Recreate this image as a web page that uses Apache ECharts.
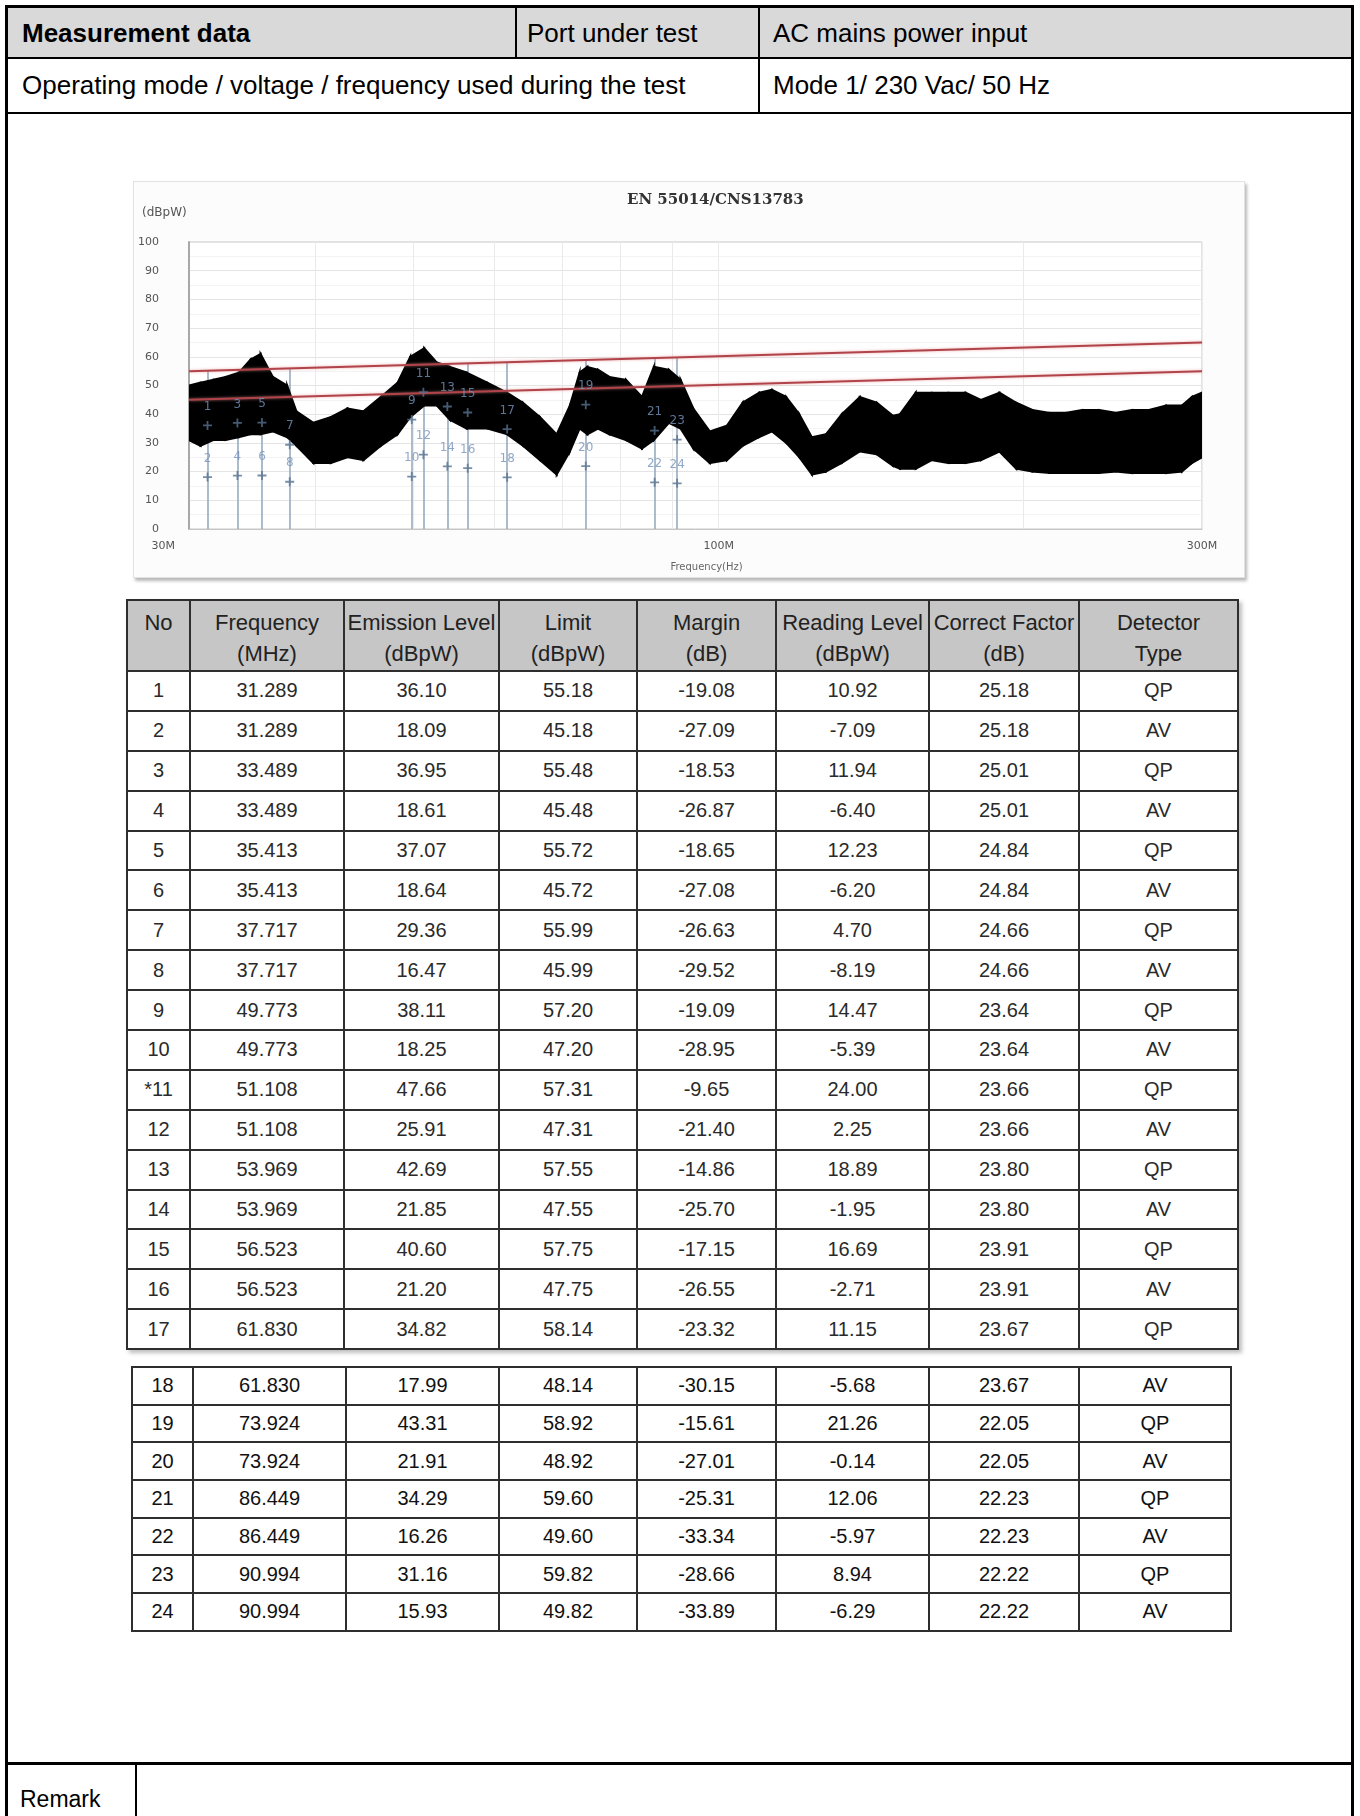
<!DOCTYPE html>
<html>
<head>
<meta charset="utf-8">
<title>Measurement data</title>
<script src="https://cdn.jsdelivr.net/npm/echarts@6/dist/echarts.min.js"></script>
<style>
  body { margin: 0; background: #fff; font-family: 'Liberation Sans', Arial, sans-serif; }
  #page { position: relative; width: 1360px; height: 1816px; overflow: hidden; }
  .ln { position: absolute; background: #000; }
  .tx { position: absolute; display: flex; align-items: center; font-size: 26px; color: #000; white-space: nowrap; }
  #chart { position: absolute; left: 133px; top: 181px; width: 1112px; height: 397px;
           background: #fcfcfc; border: 1px solid #e2e2e2; box-sizing: border-box;
           box-shadow: 2px 3px 3px rgba(0,0,0,0.28); }
  table.t { position: absolute; border-collapse: collapse; table-layout: fixed; }
  table.t td { border: 2px solid #2e2e2e; text-align: center; padding: 0; font-size: 20px; color: #2a2a2a; }
  table.t tr.hd td { background: #c6c6c6; vertical-align: top; padding-top: 6px; line-height: 31px; color: #222; font-size: 22px; }
  #t1 { left: 126px; top: 599px; box-shadow: 3px 3px 4px rgba(0,0,0,0.25); }
  #t2 { left: 131px; top: 1366px; }
  #t2 td { color: #111; }
</style>
</head>
<body>
<div id="page">
  <!-- form frame -->
  <div class="ln" style="left:8px;top:8px;width:1343px;height:50px;background:#d9d9d9"></div>
  <div class="ln" style="left:5px;top:5px;width:1349px;height:3px"></div>
  <div class="ln" style="left:5px;top:5px;width:3px;height:1811px"></div>
  <div class="ln" style="left:1351px;top:5px;width:3px;height:1811px"></div>
  <div class="ln" style="left:5px;top:57px;width:1349px;height:2px"></div>
  <div class="ln" style="left:5px;top:112px;width:1349px;height:2px"></div>
  <div class="ln" style="left:515px;top:5px;width:2px;height:53px"></div>
  <div class="ln" style="left:758px;top:5px;width:2px;height:108px"></div>
  <div class="ln" style="left:5px;top:1762px;width:1349px;height:3px"></div>
  <div class="ln" style="left:135px;top:1762px;width:2px;height:60px"></div>

  <div class="tx" style="left:22px;top:8px;height:50px;font-weight:bold">Measurement data</div>
  <div class="tx" style="left:527px;top:8px;height:50px">Port under test</div>
  <div class="tx" style="left:773px;top:8px;height:50px">AC mains power input</div>
  <div class="tx" style="left:22px;top:59px;height:53px">Operating mode / voltage / frequency used during the test</div>
  <div class="tx" style="left:773px;top:59px;height:53px">Mode 1/ 230 Vac/ 50 Hz</div>
  <div class="tx" style="left:20px;top:1766px;height:66px;font-size:23px">Remark</div>

  <div id="chart"></div>
  <table class="t" id="t1"></table>
  <table class="t" id="t2"></table>
</div>
<script>
// measured spectrum, read as upper / lower envelope of the noisy trace (MHz, dBpW)
const traceFreq = [30, 30.8, 31.7, 32.6, 33.6, 34.5, 35.3, 36.3, 37.5, 38.3,
  39.8, 41.4, 43.0, 44.6, 46.4, 48.2, 49.6, 51.2, 52.7, 54.3,
  56.4, 59.1, 61.8, 64.1, 66.6, 69.2, 71.3, 72.9, 74.2, 76.0,
  78.0, 81.0, 84.0, 86.3, 89.3, 91.7, 94.4, 98.0, 101.9, 105.6,
  109.6, 112.9, 116.6, 120.1, 123.6, 127.6, 132.3, 137.8, 143.3, 148.6,
  151, 156.5, 162.3, 168.6, 175.3, 181.5, 189.3, 196.7, 204.0, 212.0,
  220.4, 228.6, 237.5, 246.9, 256.0, 265.9, 276.4, 286.6, 293.2, 300];
const traceHigh = [50, 51, 52, 53, 54.5, 59, 61, 53, 50, 41,
  37, 39, 42, 41, 46, 51, 60, 63, 58, 56.5,
  54.5, 51, 47.5, 44, 39, 33, 43, 54.5, 56.5, 55.5,
  53, 52, 46, 56.5, 55.5, 52, 42, 34, 36, 44,
  47.5, 48.5, 46, 40, 32, 33, 40, 46, 44, 39.5,
  40, 47.5, 47.5, 47.5, 47.5, 45, 47.5, 44, 41.5, 40.5,
  40.5, 41.5, 41.5, 40.5, 41.5, 41.5, 43, 43, 46, 47.5];
const traceLow = [31, 29, 31, 31, 32, 33, 33, 34, 32, 29,
  23, 23, 25, 24, 29, 33, 39, 43, 43, 38,
  35, 35, 33, 29, 24, 19, 27, 35, 33, 35,
  33, 31, 28, 31, 37, 35, 28, 23, 24, 29,
  32, 34, 30, 25, 19, 20, 23, 27, 26, 22,
  21, 21, 24, 23, 23, 24, 27, 21, 20, 19.5,
  19.5, 19.5, 19.5, 20, 19.5, 19.5, 19.5, 20, 23, 25];

// limit lines
const limitFreq = [30, 300];
const qpLimit = [55, 65];
const avLimit = [45, 55];

// faint vertical grid lines of the plot (MHz)
const gridFreq = [40, 50, 60, 70, 80, 90, 200];

// measurement table
const measNo = ['1','2','3','4','5','6','7','8','9','10','*11','12','13','14','15','16','17','18','19','20','21','22','23','24'];
const measFreq = [31.289, 31.289, 33.489, 33.489, 35.413, 35.413, 37.717, 37.717, 49.773, 49.773, 51.108, 51.108,
  53.969, 53.969, 56.523, 56.523, 61.830, 61.830, 73.924, 73.924, 86.449, 86.449, 90.994, 90.994];
const emissionLevel = [36.10, 18.09, 36.95, 18.61, 37.07, 18.64, 29.36, 16.47, 38.11, 18.25, 47.66, 25.91,
  42.69, 21.85, 40.60, 21.20, 34.82, 17.99, 43.31, 21.91, 34.29, 16.26, 31.16, 15.93];
const limitLevel = [55.18, 45.18, 55.48, 45.48, 55.72, 45.72, 55.99, 45.99, 57.20, 47.20, 57.31, 47.31,
  57.55, 47.55, 57.75, 47.75, 58.14, 48.14, 58.92, 48.92, 59.60, 49.60, 59.82, 49.82];
const marginDb = [-19.08, -27.09, -18.53, -26.87, -18.65, -27.08, -26.63, -29.52, -19.09, -28.95, -9.65, -21.40,
  -14.86, -25.70, -17.15, -26.55, -23.32, -30.15, -15.61, -27.01, -25.31, -33.34, -28.66, -33.89];
const readingLevel = [10.92, -7.09, 11.94, -6.40, 12.23, -6.20, 4.70, -8.19, 14.47, -5.39, 24.00, 2.25,
  18.89, -1.95, 16.69, -2.71, 11.15, -5.68, 21.26, -0.14, 12.06, -5.97, 8.94, -6.29];
const correctFactor = [25.18, 25.18, 25.01, 25.01, 24.84, 24.84, 24.66, 24.66, 23.64, 23.64, 23.66, 23.66,
  23.80, 23.80, 23.91, 23.91, 23.67, 23.67, 22.05, 22.05, 22.23, 22.23, 22.22, 22.22];
const detectorType = ['QP','AV','QP','AV','QP','AV','QP','AV','QP','AV','QP','AV',
  'QP','AV','QP','AV','QP','AV','QP','AV','QP','AV','QP','AV'];

const headTop = ['No', 'Frequency', 'Emission Level', 'Limit', 'Margin', 'Reading Level', 'Correct Factor', 'Detector'];
const headBottom = ['', '(MHz)', '(dBpW)', '(dBpW)', '(dB)', '(dBpW)', '(dB)', 'Type'];

// ---- tables ----
function buildTable(id, widths, rowH, from, to, withHead) {
  const t = document.getElementById(id);
  let html = '<colgroup>' + widths.map(w => '<col style="width:' + w + 'px">').join('') + '</colgroup>';
  if (withHead) {
    html += '<tr class="hd" style="height:71px">' + headTop.map((h, i) =>
      '<td>' + h + (headBottom[i] ? '<br>' + headBottom[i] : '') + '</td>').join('') + '</tr>';
  }
  for (let i = from; i < to; i++) {
    html += '<tr style="height:' + rowH + 'px">' +
      '<td>' + measNo[i] + '</td>' +
      '<td>' + measFreq[i].toFixed(3) + '</td>' +
      '<td>' + emissionLevel[i].toFixed(2) + '</td>' +
      '<td>' + limitLevel[i].toFixed(2) + '</td>' +
      '<td>' + marginDb[i].toFixed(2) + '</td>' +
      '<td>' + readingLevel[i].toFixed(2) + '</td>' +
      '<td>' + correctFactor[i].toFixed(2) + '</td>' +
      '<td>' + detectorType[i] + '</td></tr>';
  }
  t.style.width = widths.reduce((a, b) => a + b, 0) + 'px';
  t.innerHTML = html;
}
buildTable('t1', [63, 154, 155, 138, 139, 153, 150, 159], 39.9, 0, 17, true);
buildTable('t2', [61, 153, 153, 138, 139, 153, 150, 152], 37.7, 17, 24, false);

// ---- chart ----
const chart = echarts.init(document.getElementById('chart'));

const plus = 'path://M4,0h2v4h4v2h-4v4h-2v-4h-4v-2h4z';
const markerLines = [];
measFreq.forEach((f, i) => {
  if (detectorType[i] === 'QP') {
    markerLines.push([{ coord: [f, 0] }, { coord: [f, limitLevel[i]] }]);
  }
});

// filled band between the lower and upper envelope, one quad per segment
function renderBand(params, api) {
  const i = params.dataIndex;
  if (i >= traceFreq.length - 1) return null;
  const pts = [
    api.coord([traceFreq[i], traceHigh[i]]),
    api.coord([traceFreq[i + 1], traceHigh[i + 1]]),
    api.coord([traceFreq[i + 1], traceLow[i + 1]]),
    api.coord([traceFreq[i], traceLow[i]])
  ];
  return { type: 'polygon', shape: { points: pts }, style: { fill: '#000', stroke: '#000', lineWidth: 2 } };
}

chart.setOption({
  animation: false,
  title: {
    text: 'EN 55014/CNS13783',
    left: 488, top: 6,
    textStyle: { fontFamily: 'DejaVu Serif', fontWeight: 'bold', fontSize: 15, color: '#333' }
  },
  grid: { left: 55, right: 42, top: 60, bottom: 47, show: true, borderColor: '#c6c6c6', borderWidth: 1, backgroundColor: '#fff' },
  xAxis: {
    type: 'log', logBase: 10, min: 30, max: 300,
    name: 'Frequency(Hz)', nameLocation: 'middle', nameGap: 33,
    nameTextStyle: { fontFamily: 'DejaVu Sans', fontSize: 10, color: '#666', padding: [0, 0, 0, 22] },
    axisLine: { lineStyle: { color: '#c6c6c6' } },
    axisTick: { show: false },
    axisLabel: {
      formatter: v => Math.round(v) === 30 ? '{m|30M}' : Math.round(v) + 'M',
      rich: { m: { fontFamily: 'DejaVu Sans', fontSize: 11, color: '#555', padding: [0, 14, 0, 0] } },
      fontFamily: 'DejaVu Sans', fontSize: 11, color: '#555', margin: 12,
      showMinLabel: true, showMaxLabel: true, alignMinLabel: 'right'
    },
    splitLine: { show: true, lineStyle: { color: '#ebebeb' } }
  },
  yAxis: {
    type: 'value', min: 0, max: 100, interval: 10,
    name: '(dBpW)', nameLocation: 'end', nameGap: 23,
    nameTextStyle: { fontFamily: 'DejaVu Sans', fontSize: 12, color: '#555', align: 'left', padding: [0, 0, 0, -47] },
    axisLine: { show: true, lineStyle: { color: '#a8a8a8', width: 2 } },
    axisTick: { show: false },
    axisLabel: { fontFamily: 'DejaVu Sans', fontSize: 11, color: '#555', margin: 30 },
    splitLine: { lineStyle: { color: '#e4e4e4' } },
    minorTick: { show: false, splitNumber: 2 },
    minorSplitLine: { show: true, lineStyle: { color: '#f3f3f3' } }
  },
  series: [
    {
      name: 'grid', type: 'line', data: [], z: 1, silent: true,
      markLine: {
        z: 1, silent: true, symbol: 'none', label: { show: false },
        lineStyle: { color: '#eaeaea', width: 1, type: 'solid' },
        data: gridFreq.map(f => [{ coord: [f, 0] }, { coord: [f, 100] }])
      }
    },
    {
      name: 'markers', type: 'line', data: [], z: 2, silent: true,
      markLine: {
        z: 2, silent: true, symbol: 'none', label: { show: false },
        lineStyle: { color: '#98abbf', width: 1.6, type: 'solid' },
        data: markerLines
      }
    },
    {
      name: 'trace', type: 'custom', z: 3, silent: true, clip: true,
      renderItem: renderBand,
      encode: { x: 0, y: [1, 2] },
      data: traceFreq.map((f, i) => [f, traceLow[i], traceHigh[i]])
    },
    {
      name: 'QP limit', type: 'line', z: 4, symbol: 'none', silent: true,
      lineStyle: { color: '#b0444a', width: 2, shadowColor: 'rgba(230,140,140,0.7)', shadowBlur: 3 },
      data: limitFreq.map((f, i) => [f, qpLimit[i]])
    },
    {
      name: 'AV limit', type: 'line', z: 4, symbol: 'none', silent: true,
      lineStyle: { color: '#b0444a', width: 2, shadowColor: 'rgba(230,140,140,0.7)', shadowBlur: 3 },
      data: limitFreq.map((f, i) => [f, avLimit[i]])
    },
    {
      name: 'points', type: 'scatter', z: 5, symbol: plus, symbolSize: 9, silent: true,
      itemStyle: { color: '#56728f' },
      label: { show: true, position: 'top', distance: 8, fontFamily: 'DejaVu Sans', fontSize: 12, color: '#7593ba',
               formatter: p => String(p.dataIndex + 1) },
      data: measFreq.map((f, i) => [f, emissionLevel[i]])
    }
  ]
});
</script>
</body>
</html>
